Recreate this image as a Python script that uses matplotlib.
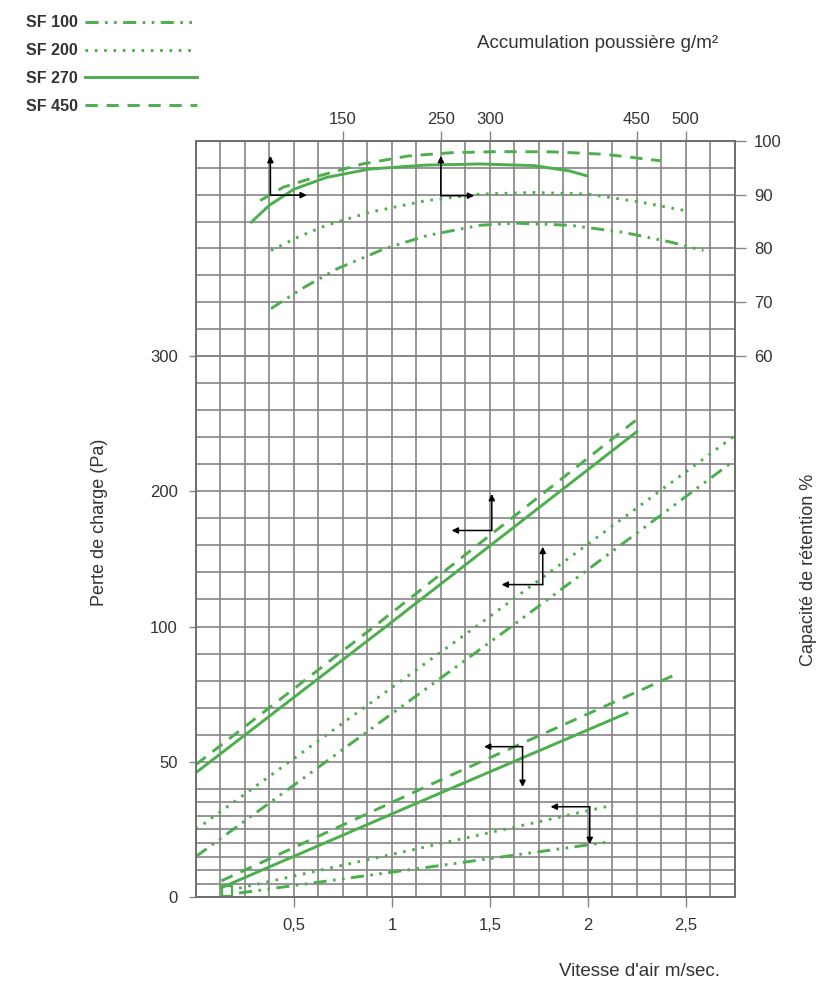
import numpy as np
import matplotlib
matplotlib.use("Agg")
import matplotlib.pyplot as plt
from matplotlib.lines import Line2D

plt.rcParams["font.family"] = ["Liberation Sans", "DejaVu Sans"]

GREEN = "#4cae4c"
GRID = "#858585"
INK = "#333333"

series = ["SF 100", "SF 200", "SF 270", "SF 450"]

# pressure drop (Pa) against air speed (m/s) - upper family
hi_v = {"SF 100": [0.0, 1.61, 2.75], "SF 200": [0.0, 1.43, 2.75],
        "SF 270": [0.0, 0.97, 2.25], "SF 450": [0.0, 0.91, 2.25]}
hi_p = {"SF 100": [15, 100, 223], "SF 200": [25, 100, 241],
        "SF 270": [46, 100, 244], "SF 450": [49, 100, 253]}

# pressure drop - lower family
lo_v = {"SF 100": [0.22, 1.18, 2.12], "SF 200": [0.22, 1.2, 2.13],
        "SF 270": [0.13, 1.2, 2.2], "SF 450": [0.13, 1.3, 2.44]}
lo_p = {"SF 100": [1.5, 11, 20.5], "SF 200": [3.3, 19, 34],
        "SF 270": [3.5, 37, 68], "SF 450": [6, 45, 82]}

# retention capacity (%) against air speed
ret_v = {
    "SF 100": [0.383, 0.54, 0.72, 0.96, 1.18, 1.45, 1.63, 1.91, 2.18, 2.42, 2.59],
    "SF 200": [0.383, 0.52, 0.666, 0.885, 1.177, 1.45, 1.724, 2.0, 2.27, 2.5],
    "SF 270": [0.283, 0.374, 0.50, 0.666, 0.885, 1.177, 1.45, 1.724, 1.907, 1.995],
    "SF 450": [0.328, 0.447, 0.63, 0.849, 1.086, 1.305, 1.542, 1.816, 2.09, 2.37],
}
ret_pct = {
    "SF 100": [68.8, 72.5, 76.2, 79.9, 82.4, 84.3, 84.7, 84.3, 83.0, 81.2, 79.6],
    "SF 200": [79.6, 82.1, 84.3, 86.7, 88.9, 90.1, 90.4, 90.1, 88.6, 87.0],
    "SF 270": [84.9, 88.0, 91.0, 93.2, 94.75, 95.5, 95.7, 95.4, 94.4, 93.5],
    "SF 450": [88.9, 91.4, 93.5, 95.7, 97.2, 97.8, 98.0, 97.96, 97.5, 96.3],
}

# reading aids: (corner, first arrow end, second arrow end)
ret_arrows = [((0.38, 89.9), (0.38, 97.2), (0.566, 89.9)),
              ((1.25, 89.8), (1.25, 97.2), (1.42, 89.8))]
pres_arrows = [((1.51, 171), (1.51, 198), (1.305, 171)),
               ((1.77, 131), (1.77, 159), (1.56, 131)),
               ((1.667, 55.6), (1.667, 40.7), (1.47, 55.6)),
               ((2.01, 33.4), (2.01, 19.6), (1.81, 33.4))]
origin_mark = (0.16, 2.2)

speed_ticks = [0.5, 1, 1.5, 2, 2.5]
speed_labels = ["0,5", "1", "1,5", "2", "2,5"]
dust_ticks = [150, 250, 300, 450, 500]
pres_ticks = [0, 50, 100, 200, 300]
pres_grid = [5, 10, 15, 20, 25, 30, 35, 40, 60, 70, 80, 90,
             120, 140, 160, 180, 220, 240, 260, 280]
ret_ticks = [60, 70, 80, 90, 100]
ret_grid = [65, 75, 85, 95]

styles = {"SF 100": (0, (4.5, 2.2, 0.9, 2.2, 0.9, 2.2)), "SF 200": (0, (0.9, 2.3)),
          "SF 270": "-", "SF 450": (0, (4.2, 3))}
LW = 2.1


def fwd(p):
    p = np.asarray(p, dtype=float)
    return np.where(p <= 100, 2 * p, p + 100)


def inv(t):
    t = np.asarray(t, dtype=float)
    return np.where(t <= 200, t / 2, t - 100)


fig = plt.figure(figsize=(8.2, 9.99), dpi=100)
ax = fig.add_axes([0.239, 0.102, 0.657, 0.757])
ax.set_yscale("function", functions=(fwd, inv))
ax.set_xlim(0, 2.75)
ax.set_ylim(0, 459)

ax.set_xticks(speed_ticks, speed_labels)
ax.set_xticks(np.arange(0, 2.76, 0.125), minor=True)
ax.set_yticks(pres_ticks)
ax.set_yticks(pres_grid, minor=True)
ax.grid(which="both", color=GRID, lw=1.2)
ax.set_axisbelow(True)
ax.tick_params(which="minor", length=0)
ax.tick_params(axis="x", which="major", length=7, width=1, color=GRID,
               pad=8, labelsize=12, labelcolor=INK)
ax.tick_params(axis="y", which="major", length=5, width=1, color=GRID,
               pad=8, labelsize=12, labelcolor=INK)

ax2 = ax.twinx()
ax2.set_ylim(-40.65, 100)
ax2.set_yticks(ret_ticks)
ax2.set_yticks(ret_grid, minor=True)
ax2.grid(which="both", axis="y", color=GRID, lw=1.2)
ax2.tick_params(which="minor", length=0)
ax2.tick_params(axis="y", which="major", length=8, width=1, color=GRID,
                pad=6, labelsize=12, labelcolor=INK)

secx = ax.secondary_xaxis("top", functions=(lambda v: v * 200, lambda g: g / 200))
secx.set_xticks(dust_ticks)
secx.tick_params(length=7, width=1, color=GRID, pad=3, labelsize=12, labelcolor=INK)

for a in (ax, ax2):
    for sp in a.spines.values():
        sp.set_color("#707070")
        sp.set_linewidth(1.3)
secx.spines["top"].set_color("#707070")

for name in series:
    ls = styles[name]
    ax.plot(hi_v[name], hi_p[name], color=GREEN, lw=LW, ls=ls)
    ax.plot(lo_v[name], lo_p[name], color=GREEN, lw=LW, ls=ls)
    ax2.plot(ret_v[name], ret_pct[name], color=GREEN, lw=LW, ls=ls)

ax.plot(*origin_mark, marker="s", ms=7, mfc="none", mec=GREEN, mew=1.6)

arrow_kw = dict(arrowstyle="-|>", lw=1.1, color="black", mutation_scale=9,
                shrinkA=0, shrinkB=0)
for target, group in ((ax2, ret_arrows), (ax, pres_arrows)):
    for corner, end1, end2 in group:
        target.annotate("", xy=end1, xytext=corner, arrowprops=arrow_kw)
        target.annotate("", xy=end2, xytext=corner, arrowprops=arrow_kw)

handles = [Line2D([], [], color=GREEN, lw=LW, ls=styles[n]) for n in series]
fig.legend(handles, series, loc="upper left", bbox_to_anchor=(0.022, 0.9925),
           frameon=False, markerfirst=False, handlelength=7.0,
           handletextpad=0.45, labelspacing=0.8, borderpad=0,
           prop={"size": 11.5, "weight": "bold"}, labelcolor=INK)

fig.text(598 / 820, 1 - 44 / 999, "Accumulation poussière g/m²", ha="center",
         va="center", fontsize=13.5, color=INK)
fig.text(640 / 820, 1 - 972 / 999, "Vitesse d'air m/sec.", ha="center",
         va="center", fontsize=13.5, color=INK)
fig.text(100 / 820, 1 - 522 / 999, "Perte de charge (Pa)", ha="center",
         va="center", rotation=90, fontsize=13, color=INK)
fig.text(809 / 820, 1 - 570 / 999, "Capacité de rétention %", ha="center",
         va="center", rotation=90, fontsize=13, color=INK)

fig.savefig("out.png", dpi=100)
